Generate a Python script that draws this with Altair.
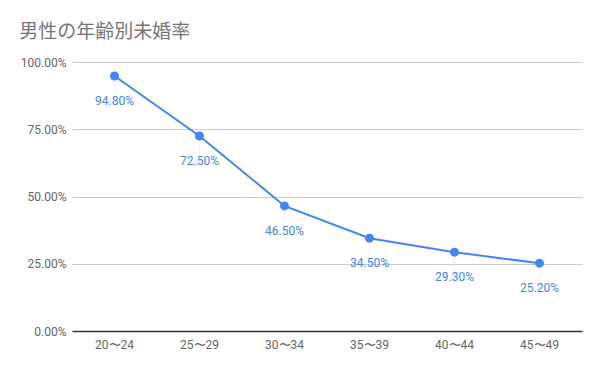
import altair as alt
import pandas as pd

categories = ["20〜24", "25〜29", "30〜34", "35〜39", "40〜44", "45〜49"]
values = [0.948, 0.725, 0.465, 0.345, 0.293, 0.252]

df = pd.DataFrame({"age": categories, "rate": values})

x = alt.X("age:N", sort=categories, title=None,
          scale=alt.Scale(paddingInner=0, paddingOuter=0),
          axis=alt.Axis(labelAngle=0, labelColor="#666666", labelFontSize=12,
                        labelFont="Roboto", ticks=False, domainColor="#333333",
                        domainWidth=1.5, labelPadding=8))
y = alt.Y("rate:Q", title=None,
          scale=alt.Scale(domain=[0, 1]),
          axis=alt.Axis(format=".2%", values=[0, 0.25, 0.5, 0.75, 1.0],
                        labelColor="#666666", labelFontSize=12, labelFont="Roboto",
                        ticks=False, domain=False, gridColor="#cccccc",
                        labelPadding=6))

base = alt.Chart(df).encode(x=x, y=y)

leader = base.mark_tick(orient="vertical", size=20, thickness=1, color="#eeeeee", yOffset=12)
line = base.mark_line(color="#4285F4", strokeWidth=2)
pts = base.mark_point(filled=True, size=80, color="#4285F4", opacity=1)
labels = base.mark_text(dy=25, baseline="middle", color="#4285F4", fontSize=12,
                        font="Roboto").encode(text=alt.Text("rate:Q", format=".2%"))

chart = (leader + line + pts + labels).properties(
    width=510, height=269,
    title=alt.TitleParams("男性の年齢別未婚率", anchor="start", dx=-1, offset=14,
                          fontSize=19, fontWeight="normal", color="#757575",
                          font="Noto Sans CJK JP"),
    autosize=alt.AutoSizeParams(type="none"),
    padding={"left": 72, "top": 62, "right": 18, "bottom": 40},
).configure_view(stroke=None)

chart.save("out.html", embed_options={"renderer": "svg", "actions": False})
